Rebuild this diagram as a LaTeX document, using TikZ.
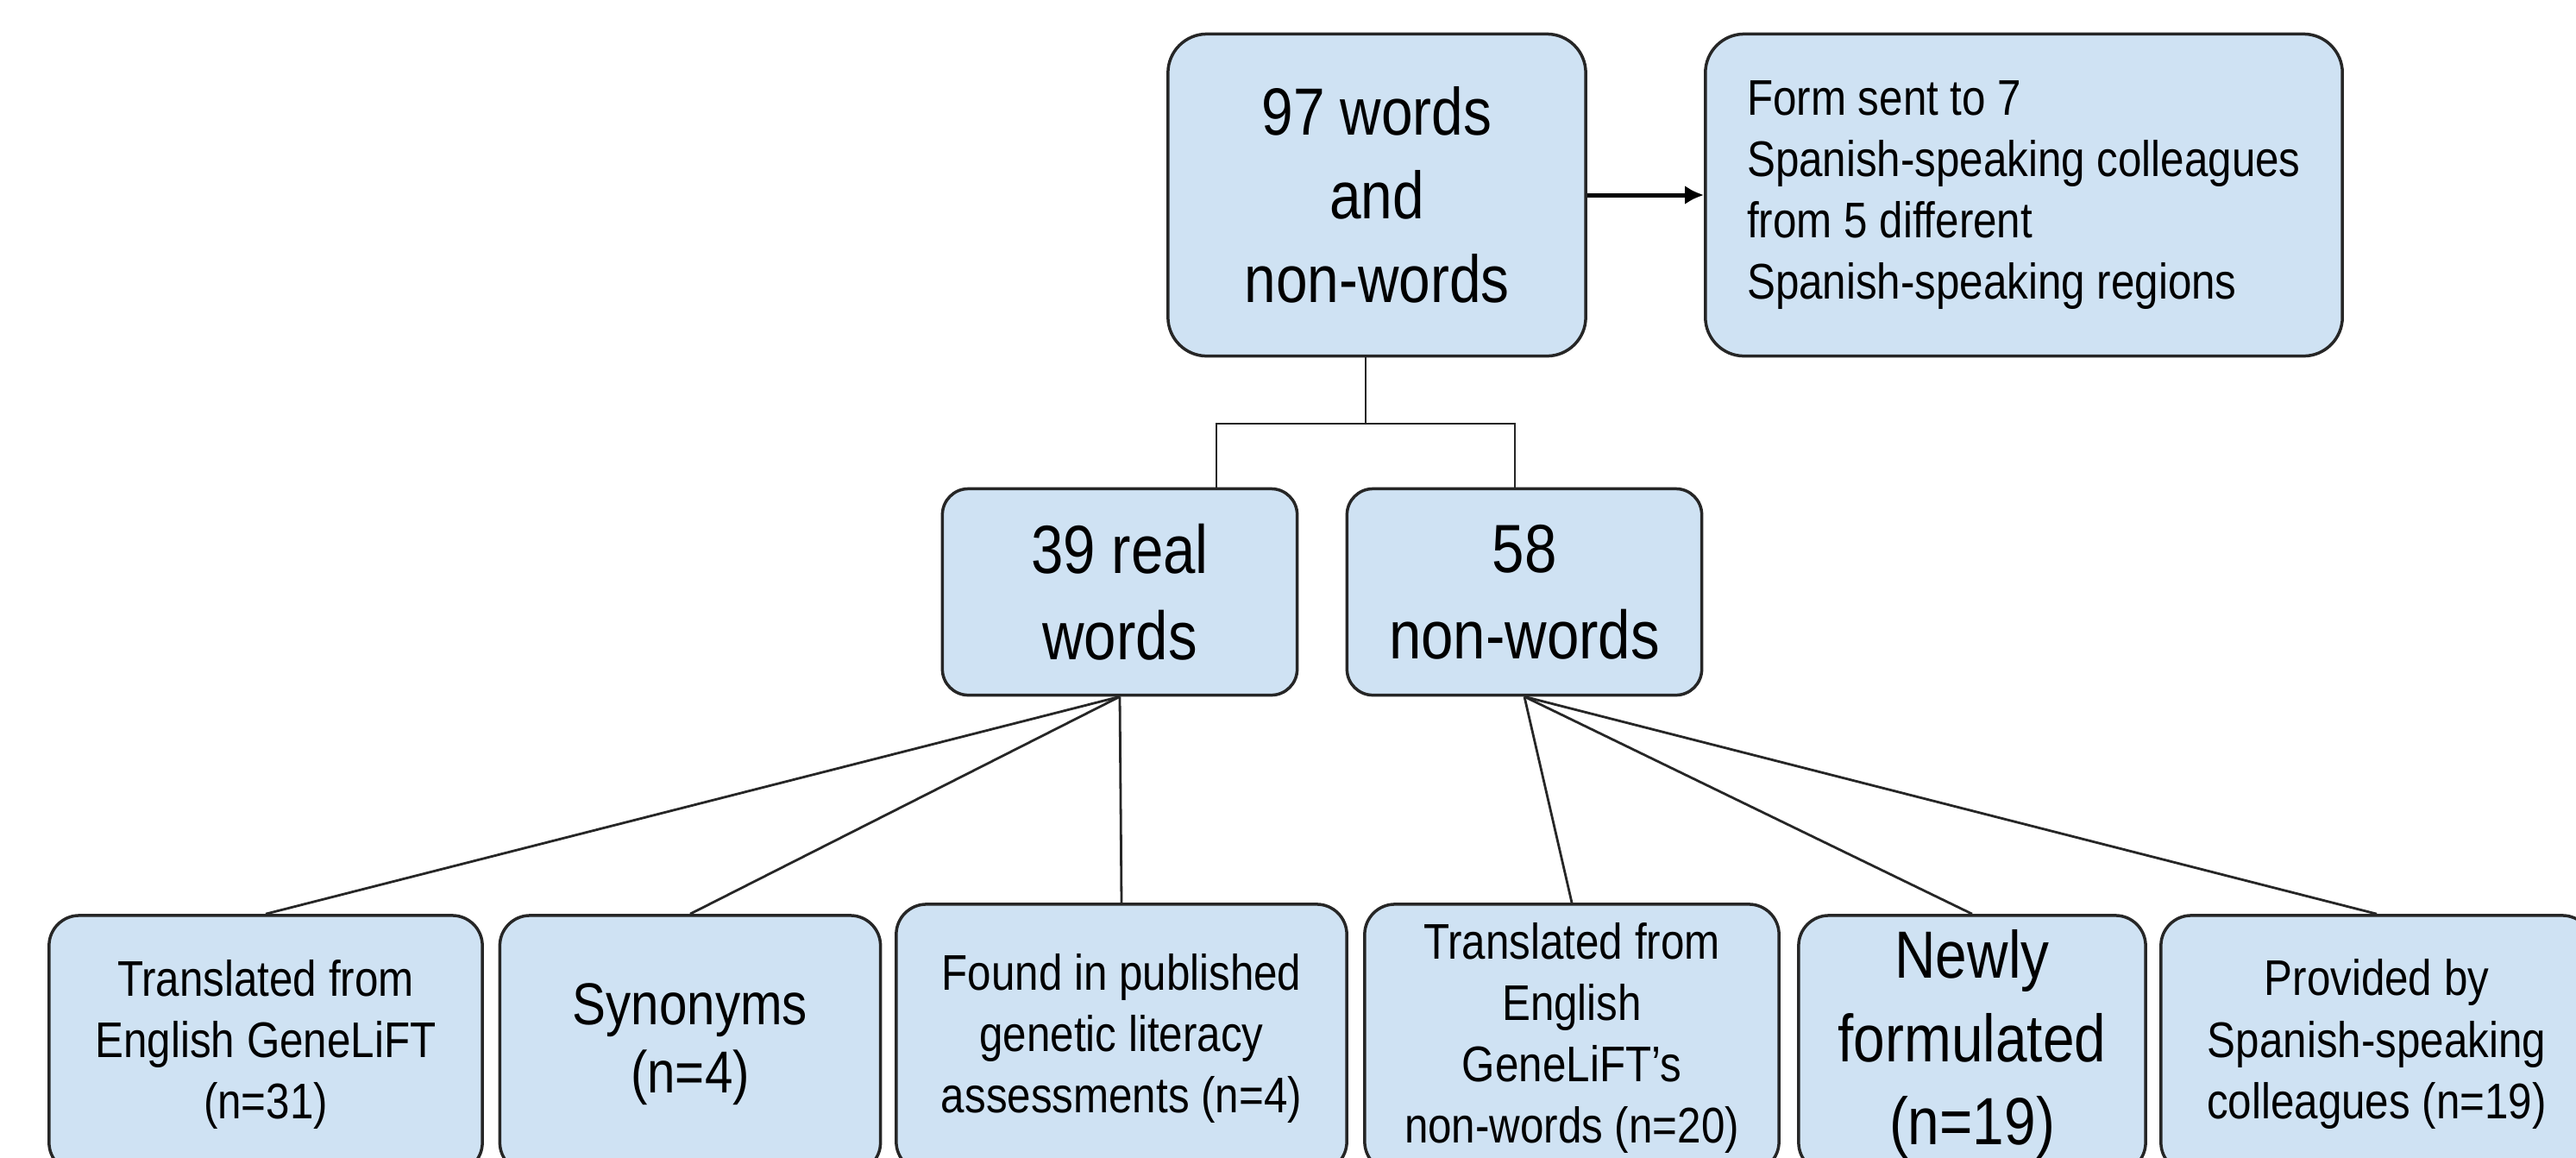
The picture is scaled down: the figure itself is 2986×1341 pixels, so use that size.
\documentclass[tikz,border=0pt]{standalone}
\usepackage{fontspec}
\setmainfont{Liberation Sans}[FakeStretch=0.85]
\usetikzlibrary{arrows.meta}
\definecolor{boxblue}{HTML}{CFE2F3}

\begin{document}
\begin{tikzpicture}[x=0.01cm, y=-0.01cm, >={Latex[length=0.22cm, width=0.22cm]},
  box/.style={draw=black!85, line width=0.035cm, fill=boxblue, rounded corners=0.35cm, align=center, inner sep=0pt},
  big/.style={font=\fontsize{22}{27.5}\selectfont},
  small/.style={font=\fontsize{16.5}{20.2}\selectfont},
  link/.style={black!85, line width=0.028cm}]

\path[use as bounding box, clip] (0,0) rectangle (2986,1341);

\node[box, big, minimum width=4.84cm, minimum height=3.73cm, rounded corners=0.45cm] (all) at (1596,226) {97 words\\and\\non-words}; %top
\node[box, small, minimum width=7.38cm, minimum height=3.73cm, rounded corners=0.45cm, align=left] (form) at (2346,226) {Form sent to 7\\Spanish-speaking colleagues\\from 5 different\\Spanish-speaking regions}; %form

\draw[line width=0.05cm, ->] (all) -- (form);

\node[box, font=\fontsize{22.5}{28.5}\selectfont, minimum width=4.11cm, minimum height=2.39cm, rounded corners=0.3cm] (real) at (1298,686) {39 real\\words}; %real
\node[box, font=\fontsize{22.5}{28.5}\selectfont, minimum width=4.11cm, minimum height=2.39cm, rounded corners=0.3cm] (non) at (1767,686) {58\\non-words}; %non

\coordinate (fork) at (1583,491);
\coordinate (lk) at (1410,0);
\coordinate (rk) at (1756,0);
\draw[link] (all.south -| fork) -- (fork);
\draw[link] (real.north -| lk) |- (fork) -| (non.north -| rk); %split

\node[box, small, minimum width=5.02cm, minimum height=2.98cm] (trans) at (308,1210) {Translated from\\English GeneLiFT\\(n=31)};
\node[box, font=\fontsize{19.5}{22.5}\selectfont, minimum width=4.41cm, minimum height=2.98cm] (syn) at (800,1210) {Synonyms\\(n=4)};
\node[box, small, minimum width=5.22cm, minimum height=3.1cm] (found) at (1300,1203) {Found in published\\genetic literacy\\assessments (n=4)};
\node[box, small, minimum width=4.8cm, minimum height=3.1cm] (eng) at (1822,1203) {Translated from\\English\\GeneLiFT's\\non-words (n=20)};
\node[box, big, minimum width=4.02cm, minimum height=2.98cm] (new) at (2286,1210) {Newly\\formulated\\(n=19)};
\node[box, small, minimum width=5.0cm, minimum height=2.98cm] (prov) at (2755,1210) {Provided by\\Spanish-speaking\\colleagues (n=19)};

\draw[link] (real.south) -- (trans.north); %real words
\draw[link] (real.south) -- (syn.north);
\draw[link] (real.south) -- (found.north);

\draw[link] (non.south) -- (eng.north); %non-words
\draw[link] (non.south) -- (new.north);
\draw[link] (non.south) -- (prov.north);

\end{tikzpicture}
\end{document}
